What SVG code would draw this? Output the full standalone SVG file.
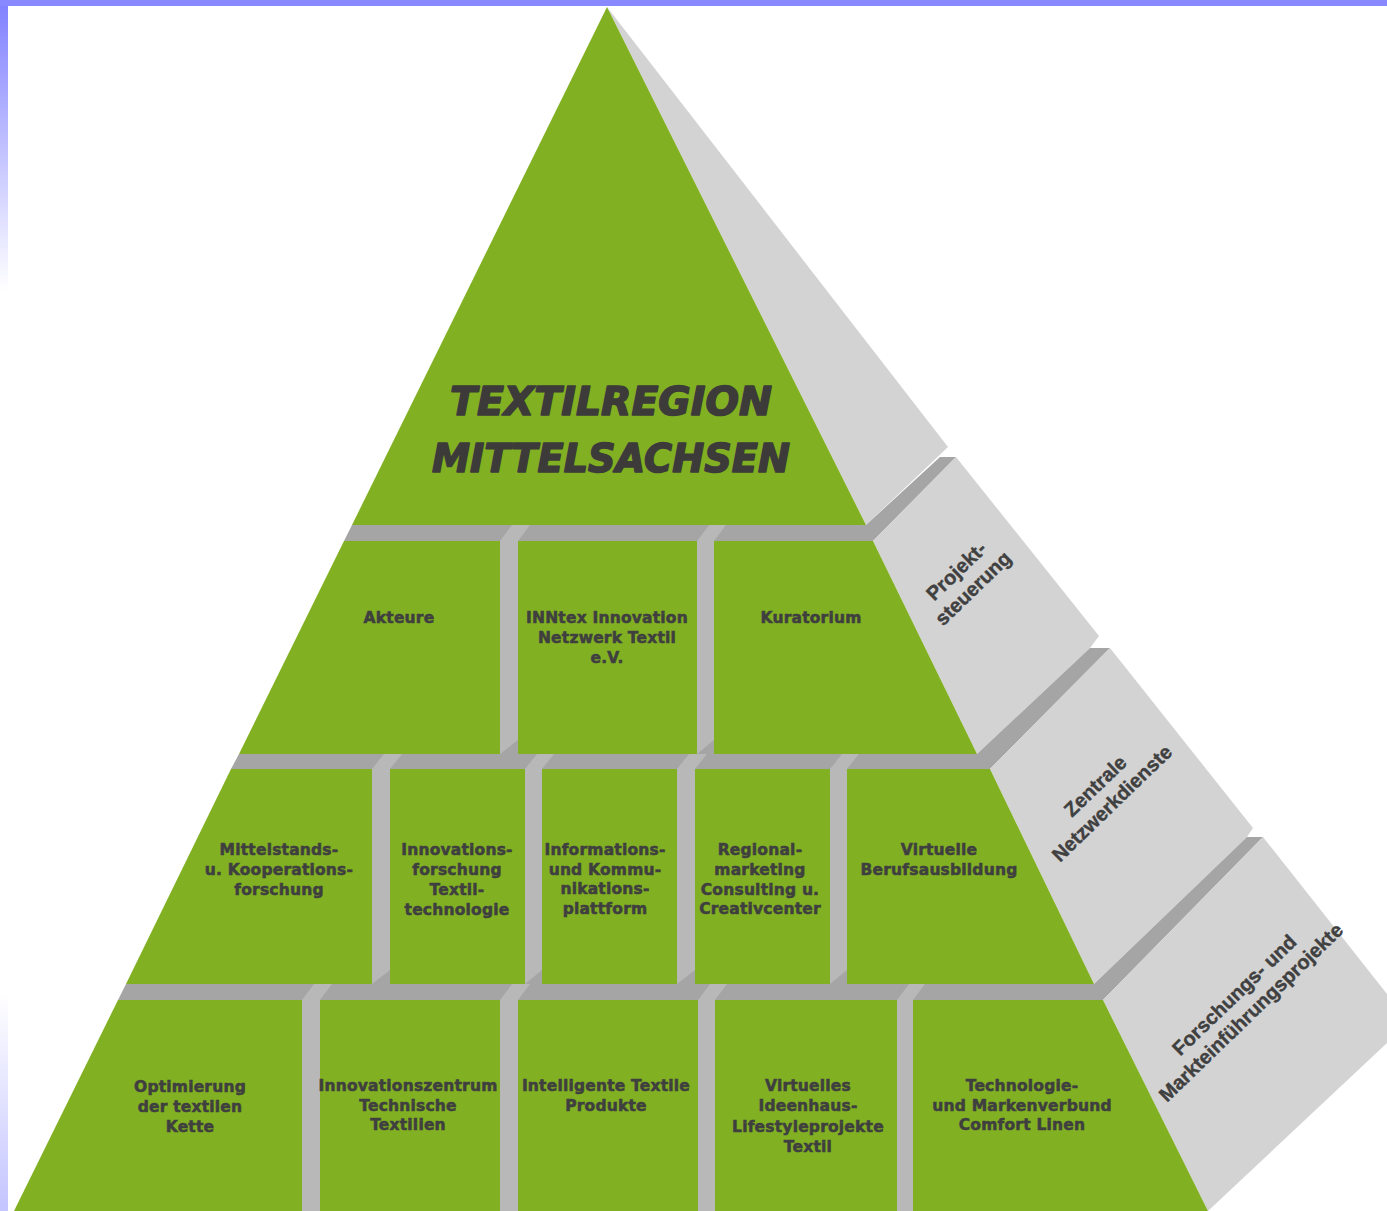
<svg xmlns="http://www.w3.org/2000/svg" width="1387" height="1211" viewBox="0 0 1387 1211">
<defs>
<linearGradient id="leftbar" x1="0" y1="0" x2="0" y2="1">
<stop offset="0" stop-color="#8080ff"/>
<stop offset="0.24" stop-color="#ffffff"/>
<stop offset="0.82" stop-color="#ffffff"/>
<stop offset="1" stop-color="#c4c4ff"/>
</linearGradient>
<style>
.g{fill:#81b123}
.side{fill:#d3d3d3}
.ledge{fill:#a5a5a5}
.div{fill:#b8b8b8}
.sh{fill:#a5a5a5}
.lbl{font-family:"DejaVu Sans",Verdana,sans-serif;font-weight:bold;font-size:15.5px;fill:#3f3f3f;stroke:#3f3f3f;stroke-width:0.55px;text-anchor:middle;letter-spacing:0.2px}
.title{font-family:"DejaVu Sans",Verdana,sans-serif;font-weight:bold;font-style:italic;font-size:39px;fill:#3d3b3a;stroke:#3d3b3a;stroke-width:1.6px;stroke-linejoin:round;text-anchor:middle}
.slbl{font-family:"Liberation Sans",Arial,sans-serif;font-weight:bold;font-size:20px;fill:#404040;stroke:#404040;stroke-width:0.4px;text-anchor:middle}
</style>
</defs>
<rect x="0" y="0" width="1387" height="1211" fill="#ffffff"/>
<rect x="0" y="0" width="8" height="1211" fill="url(#leftbar)"/>
<rect x="0" y="0" width="1387" height="6" fill="#8888ff"/>

<g id="structure">
<polygon class="side" points="607,7 948,447 866,525"/>
<polygon class="ledge" points="352,525 866,525 940,457 956,457 873,541 344,541"/>
<polygon class="side" points="956,457 1099,636 1090,648 977,754 873,541"/>
<polygon class="ledge" points="239,754 977,754 1090,648 1110,648 990,769 231,769"/>
<polygon class="side" points="1110,648 1253,828 1247,837 1094,984 990,769"/>
<polygon class="ledge" points="126,984 1094,984 1247,837 1263,837 1103,1000 118,1000"/>
<polygon class="side" points="1263,837 1387,994 1387,1043 1208,1211 1103,1000"/>
</g>

<g id="connectors">
<rect class="div" x="500" y="541" width="18" height="213"/>
<polygon class="div" points="500,541 518,541 530,525 512,525"/>
<polygon class="sh" points="500,754 518,740 518,754"/>
<rect class="div" x="697" y="541" width="17" height="213"/>
<polygon class="div" points="697,541 714,541 726,525 709,525"/>
<polygon class="sh" points="697,754 714,740 714,754"/>
<rect class="div" x="372" y="769" width="18" height="215"/>
<polygon class="div" points="372,769 390,769 402,754 384,754"/>
<polygon class="sh" points="372,984 390,970 390,984"/>
<rect class="div" x="525" y="769" width="17" height="215"/>
<polygon class="div" points="525,769 542,769 554,754 537,754"/>
<polygon class="sh" points="525,984 542,970 542,984"/>
<rect class="div" x="677" y="769" width="18" height="215"/>
<polygon class="div" points="677,769 695,769 707,754 689,754"/>
<polygon class="sh" points="677,984 695,970 695,984"/>
<rect class="div" x="830" y="769" width="17" height="215"/>
<polygon class="div" points="830,769 847,769 859,754 842,754"/>
<polygon class="sh" points="830,984 847,970 847,984"/>
<rect class="div" x="302" y="1000" width="18" height="211"/>
<polygon class="div" points="302,1000 320,1000 332,984 314,984"/>
<rect class="div" x="500" y="1000" width="18" height="211"/>
<polygon class="div" points="500,1000 518,1000 530,984 512,984"/>
<rect class="div" x="698" y="1000" width="17" height="211"/>
<polygon class="div" points="698,1000 715,1000 727,984 710,984"/>
<rect class="div" x="897" y="1000" width="16" height="211"/>
<polygon class="div" points="897,1000 913,1000 925,984 909,984"/>
</g>

<g id="apex">
<polygon class="g" points="607,7 866,525 352,525"/>
<text class="title" x="611" y="415" textLength="322" lengthAdjust="spacingAndGlyphs">TEXTILREGION</text>
<text class="title" x="611" y="472" textLength="358" lengthAdjust="spacingAndGlyphs">MITTELSACHSEN</text>
</g>

<g id="akteure">
<polygon class="g" points="344,541 500,541 500,754 239,754"/>
<text class="lbl" x="399" y="623">Akteure</text>
</g>
<g id="inntex">
<rect class="g" x="518" y="541" width="179" height="213"/>
<text class="lbl" x="607" y="623">INNtex Innovation</text>
<text class="lbl" x="607" y="643">Netzwerk Textil</text>
<text class="lbl" x="607" y="663">e.V.</text>
</g>
<g id="kuratorium">
<polygon class="g" points="714,541 873,541 977,754 714,754"/>
<text class="lbl" x="811" y="623">Kuratorium</text>
</g>

<g id="mittelstand">
<polygon class="g" points="231,769 372,769 372,984 126,984"/>
<text class="lbl" x="279" y="855">Mittelstands-</text>
<text class="lbl" x="279" y="875">u. Kooperations-</text>
<text class="lbl" x="279" y="895">forschung</text>
</g>
<g id="innovationsforschung">
<rect class="g" x="390" y="769" width="135" height="215"/>
<text class="lbl" x="457" y="855">Innovations-</text>
<text class="lbl" x="457" y="875">forschung</text>
<text class="lbl" x="457" y="895">Textil-</text>
<text class="lbl" x="457" y="915">technologie</text>
</g>
<g id="informationsplattform">
<rect class="g" x="542" y="769" width="135" height="215"/>
<text class="lbl" x="605" y="855">Informations-</text>
<text class="lbl" x="605" y="875">und Kommu-</text>
<text class="lbl" x="605" y="894">nikations-</text>
<text class="lbl" x="605" y="914">plattform</text>
</g>
<g id="regionalmarketing">
<rect class="g" x="695" y="769" width="135" height="215"/>
<text class="lbl" x="760" y="855">Regional-</text>
<text class="lbl" x="760" y="875">marketing</text>
<text class="lbl" x="760" y="895">Consulting u.</text>
<text class="lbl" x="760" y="914">Creativcenter</text>
</g>
<g id="berufsausbildung">
<polygon class="g" points="847,769 990,769 1094,984 847,984"/>
<text class="lbl" x="939" y="855">Virtuelle</text>
<text class="lbl" x="939" y="875">Berufsausbildung</text>
</g>

<g id="optimierung">
<polygon class="g" points="118,1000 302,1000 302,1211 14,1211"/>
<text class="lbl" x="190" y="1092">Optimierung</text>
<text class="lbl" x="190" y="1112">der textilen</text>
<text class="lbl" x="190" y="1132">Kette</text>
</g>
<g id="innovationszentrum">
<rect class="g" x="320" y="1000" width="180" height="211"/>
<text class="lbl" x="408" y="1091">Innovationszentrum</text>
<text class="lbl" x="408" y="1111">Technische</text>
<text class="lbl" x="408" y="1130">Textilien</text>
</g>
<g id="intelligente">
<rect class="g" x="518" y="1000" width="180" height="211"/>
<text class="lbl" x="606" y="1091">Intelligente Textile</text>
<text class="lbl" x="606" y="1111">Produkte</text>
</g>
<g id="ideenhaus">
<rect class="g" x="715" y="1000" width="182" height="211"/>
<text class="lbl" x="808" y="1091">Virtuelles</text>
<text class="lbl" x="808" y="1111">Ideenhaus-</text>
<text class="lbl" x="808" y="1132">Lifestyleprojekte</text>
<text class="lbl" x="808" y="1152">Textil</text>
</g>
<g id="comfortlinen">
<polygon class="g" points="913,1000 1103,1000 1208,1211 913,1211"/>
<text class="lbl" x="1022" y="1091">Technologie-</text>
<text class="lbl" x="1022" y="1111">und Markenverbund</text>
<text class="lbl" x="1022" y="1130">Comfort Linen</text>
</g>

<g id="projektsteuerung">
<g transform="translate(961,576) rotate(-44)">
<text class="slbl" x="0" y="0">Projekt-</text>
<text class="slbl" x="0" y="24">steuerung</text>
</g>
</g>
<g id="netzwerkdienste">
<g transform="translate(1100,791) rotate(-44)">
<text class="slbl" x="0" y="0">Zentrale</text>
<text class="slbl" x="0" y="24">Netzwerkdienste</text>
</g>
</g>
<g id="forschungsprojekte">
<g transform="translate(1239,1000) rotate(-44)">
<text class="slbl" x="0" y="0">Forschungs- und</text>
<text class="slbl" x="0" y="24">Markteinführungsprojekte</text>
</g>
</g>
</svg>
